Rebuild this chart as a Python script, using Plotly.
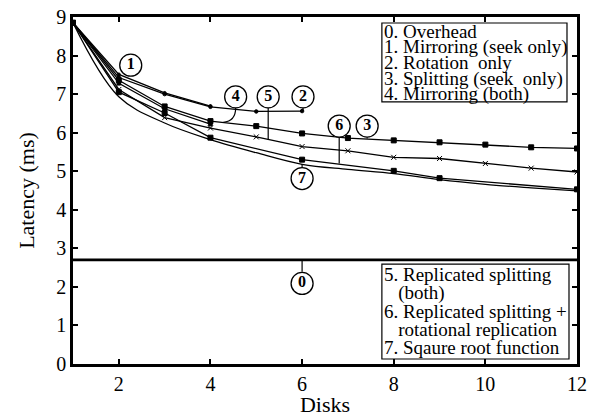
import plotly.graph_objects as go

# ---- data ----
x_overhead = [1, 12]
y_overhead = [2.7, 2.7]

x_mirror_seek = [1, 2, 3, 4]
y_mirror_seek = [8.85, 7.51, 7.03, 6.69]

x_rotation = [1, 2, 3, 4, 5, 6]
y_rotation = [8.85, 7.43, 7.0, 6.67, 6.55, 6.56]

x_split_seek = [1, 2, 3, 4, 5, 6, 7, 8, 9, 10, 11, 12]
y_split_seek = [8.85, 7.36, 6.68, 6.30, 6.17, 5.98, 5.86, 5.80, 5.75, 5.69, 5.62, 5.59]

x_mirror_both = [1, 2, 3, 4]
y_mirror_both = [8.85, 7.28, 6.62, 6.22]

x_repl_split = [1, 2, 3, 4, 5, 6, 7, 8, 9, 10, 11, 12]
y_repl_split = [8.85, 7.12, 6.39, 6.12, 5.89, 5.64, 5.53, 5.36, 5.33, 5.20, 5.08, 4.98]

x_repl_rot = [1, 2, 3, 4, 6, 8, 9, 12]
y_repl_rot = [8.85, 7.05, 6.51, 5.87, 5.30, 5.01, 4.82, 4.53]

x_sqrt = [1, 2, 3, 4, 5, 6, 7, 8, 9, 10, 11, 12]
y_sqrt = [8.85, 6.93, 6.25, 5.82, 5.48, 5.18, 5.05, 4.94, 4.78, 4.66, 4.57, 4.49]

x_ticks = [2, 4, 6, 8, 10, 12]
y_ticks = [0, 1, 2, 3, 4, 5, 6, 7, 8, 9]

legend_top = ["0. Overhead", "1. Mirroring (seek only)", "2. Rotation  only",
              "3. Splitting (seek  only)", "4. Mirroring (both)"]
legend_bottom = ["5. Replicated splitting", "   (both)", "6. Replicated splitting +",
                 "   rotational replication", "7. Sqaure root function"]

# circled curve labels
label_text = ["0", "1", "2", "3", "4", "5", "6", "7"]
label_x = [6.0, 2.26, 6.02, 7.42, 4.55, 5.26, 6.81, 6.0]
label_y = [2.09, 7.75, 6.93, 6.17, 6.93, 6.93, 6.17, 4.81]

FONT = "Liberation Serif"
K = "black"

L, R, T, B = 73.3, 21, 16.7, 53
PW, PH = 598 - L - R, 417 - T - B

fig = go.Figure()

fig.add_trace(go.Scatter(x=x_overhead, y=y_overhead, mode="lines",
                         line=dict(color=K, width=2.6), hoverinfo="skip"))

def curve(x, y, sym, size, shape="linear"):
    fig.add_trace(go.Scatter(
        x=x, y=y, mode="lines+markers" if sym else "lines",
        line=dict(color=K, width=1.3, shape=shape),
        marker=dict(symbol=sym or "circle", size=size, color=K,
                    line=dict(color=K, width=1)),
        hoverinfo="skip"))

curve(x_mirror_seek, y_mirror_seek, "circle", 3)
curve(x_rotation, y_rotation, "circle", 3.5)
curve(x_split_seek, y_split_seek, "square", 5)
curve(x_mirror_both, y_mirror_both, "square", 3.5)
curve(x_repl_split, y_repl_split, "x-thin", 5)
curve(x_repl_rot, y_repl_rot, "square", 5)
curve(x_sqrt, y_sqrt, None, 0, shape="spline")

# connectors
conn = [
    (6.0, 2.39, 6.0, 2.7),
    (6.02, 6.64, 6.02, 6.56),
    (5.26, 6.64, 5.26, 5.83),
    (6.81, 5.88, 6.81, 5.20),
    (7.42, 5.88, 7.42, 5.85),
    (6.0, 5.10, 6.0, 5.19),
]
for x0, y0, x1, y1 in conn:
    fig.add_shape(type="line", x0=x0, y0=y0, x1=x1, y1=y1,
                  line=dict(color=K, width=1.2))
fig.add_shape(type="path", path="M 4.55,6.64 Q 4.55,6.30 4.28,6.27",
              line=dict(color=K, width=1.2))

fig.add_trace(go.Scatter(
    x=label_x, y=label_y, mode="markers+text", text=label_text,
    textposition="middle center",
    textfont=dict(family=FONT, size=16, color=K),
    texttemplate="<b>%{text}</b>",
    marker=dict(symbol="circle", size=22, color="white",
                line=dict(color=K, width=1.3)),
    hoverinfo="skip"))

# legend boxes
fig.add_shape(type="rect", xref="paper", yref="paper",
              x0=(382 - L) / PW, x1=(567 - L) / PW,
              y0=(417 - B - 101.7) / PH, y1=(417 - B - 22.7) / PH,
              line=dict(color=K, width=1.2), fillcolor="white", layer="above")
fig.add_shape(type="rect", xref="paper", yref="paper",
              x0=(382 - L) / PW, x1=(569 - L) / PW,
              y0=(417 - B - 359) / PH, y1=(417 - B - 264) / PH,
              line=dict(color=K, width=1.2), fillcolor="white", layer="above")

for i, t in enumerate(legend_top):
    ypx = 31.5 + i * 15.6
    fig.add_annotation(text=t.replace(" ", "&nbsp;"), xref="paper", yref="paper",
                       x=(382 - L) / PW, y=(417 - B - ypx) / PH,
                       xanchor="left", yanchor="middle", showarrow=False,
                       font=dict(family=FONT, size=19, color=K))
for i, t in enumerate(legend_bottom):
    ypx = 274.5 + i * 18.3
    fig.add_annotation(text=t.replace(" ", "&nbsp;"), xref="paper", yref="paper",
                       x=(382 - L) / PW, y=(417 - B - ypx) / PH,
                       xanchor="left", yanchor="middle", showarrow=False,
                       font=dict(family=FONT, size=19, color=K))

axis_common = dict(showline=True, linecolor=K, linewidth=2.6, mirror="ticks",
                   ticks="inside", ticklen=5, tickwidth=1.5, tickcolor=K,
                   showgrid=False, zeroline=False, automargin=False,
                   tickfont=dict(family=FONT, size=20, color=K))

fig.update_layout(
    width=598, height=417,
    margin=dict(l=L, r=R, t=T, b=B, pad=0),
    plot_bgcolor="white", paper_bgcolor="white",
    showlegend=False,
    font=dict(family=FONT, color=K),
    xaxis=dict(range=[1, 12], tickvals=x_ticks, ticktext=[str(v) for v in x_ticks],
               title=dict(text="Disks", font=dict(family=FONT, size=22, color=K),
                          standoff=0), **axis_common),
    yaxis=dict(range=[0, 9], tickvals=y_ticks, ticktext=[str(v) for v in y_ticks],
               title=dict(text="Latency (ms)", font=dict(family=FONT, size=22, color=K),
                          standoff=16), **axis_common),
)

fig.write_html("out.html", config={"displayModeBar": False},
               post_script="document.body.style.margin='0';document.body.style.overflow='hidden';")
